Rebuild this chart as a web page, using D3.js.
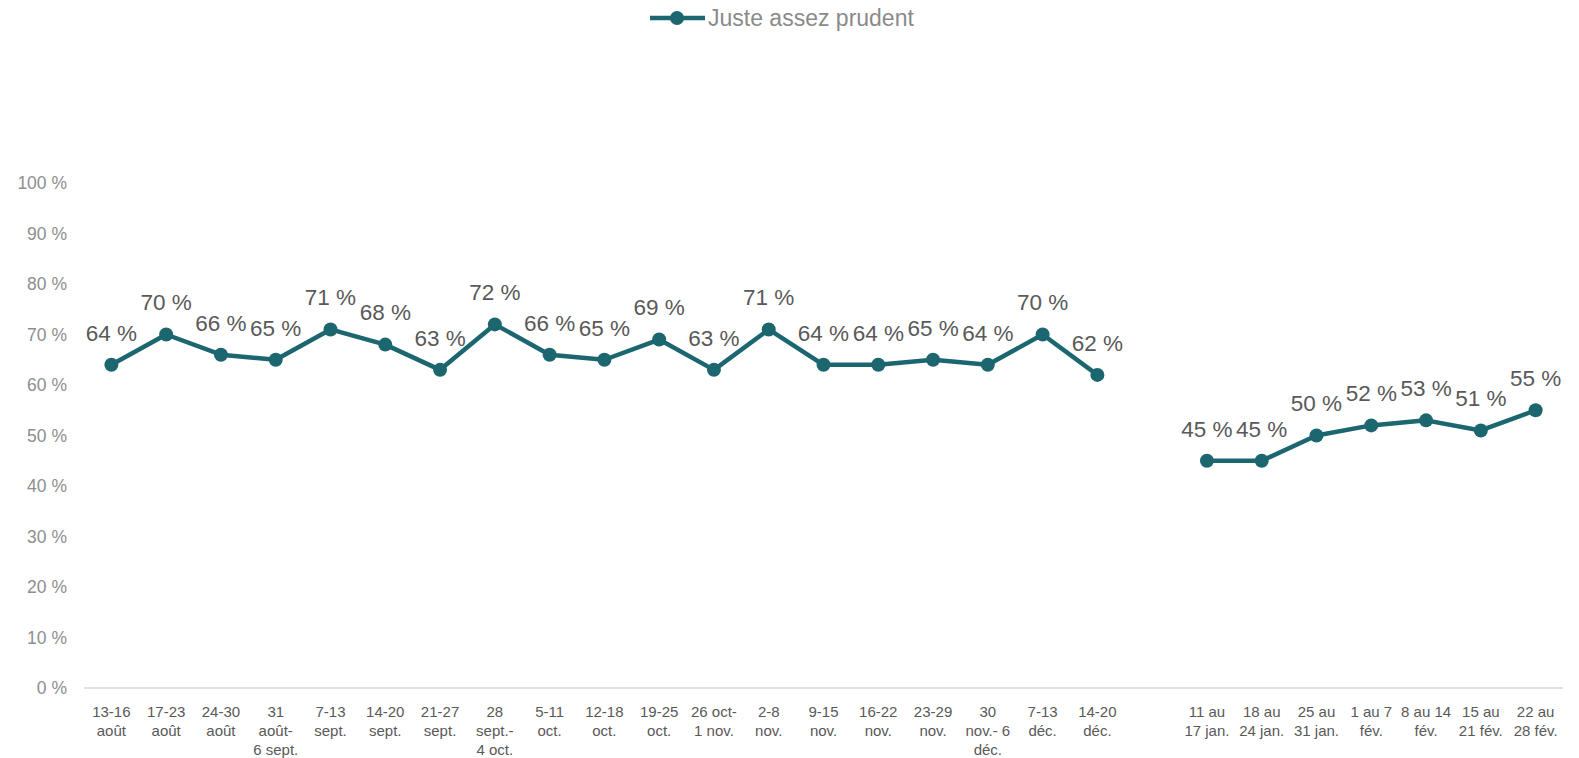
<!DOCTYPE html>
<html>
<head>
<meta charset="utf-8">
<script src="https://cdn.jsdelivr.net/npm/d3@7"></script>
<style>
  html, body { margin: 0; padding: 0; background: #fff; overflow: hidden; }
  svg { display: block; }
  text { font-family: "Liberation Sans", Arial, sans-serif; }
</style>
</head>
<body>
<div id="chartArea"></div>
<script>
const w = 1579;
const h = 758;
const margin = {top: 183, right: 16, bottom: 70, left: 84};

const categories = [
  "13-16\naoût", "17-23\naoût", "24-30\naoût", "31\naoût-\n6 sept.", "7-13\nsept.",
  "14-20\nsept.", "21-27\nsept.", "28\nsept.-\n4 oct.", "5-11\noct.", "12-18\noct.",
  "19-25\noct.", "26 oct-\n1 nov.", "2-8\nnov.", "9-15\nnov.", "16-22\nnov.",
  "23-29\nnov.", "30\nnov.- 6\ndéc.", "7-13\ndéc.", "14-20\ndéc.", "",
  "11 au\n17 jan.", "18 au\n24 jan.", "25 au\n31 jan.", "1 au 7\nfév.", "8 au 14\nfév.",
  "15 au\n21 fév.", "22 au\n28 fév."
];
const values = [64, 70, 66, 65, 71, 68, 63, 72, 66, 65, 69, 63, 71, 64, 64, 65, 64, 70, 62, null,
  45, 45, 50, 52, 53, 51, 55];
const yTicks = [0, 10, 20, 30, 40, 50, 60, 70, 80, 90, 100];
const seriesName = "Juste assez prudent";

const lineColor = "#1c6670";

const svg = d3.select("#chartArea")
    .append("svg")
    .attr("width", w)
    .attr("height", h);

let x = d3.scaleBand()
    .domain(d3.range(categories.length))
    .range([margin.left, w - margin.right]);

let y = d3.scaleLinear()
    .domain([0, 100])
    .range([h - margin.bottom, margin.top]);

// y axis labels
svg.append("g")
    .selectAll("text")
    .data(yTicks)
    .enter()
    .append("text")
    .attr("x", 67)
    .attr("y", d => y(d))
    .attr("dy", "0.35em")
    .attr("text-anchor", "end")
    .attr("font-size", 17.5)
    .attr("fill", "#8e8e8e")
    .text(d => d + " %");

// baseline
svg.append("line")
    .attr("x1", margin.left)
    .attr("x2", w - margin.right)
    .attr("y1", y(0))
    .attr("y2", y(0))
    .attr("stroke", "#d9d9d9")
    .attr("stroke-width", 1.5);

// x labels
let xl = svg.append("g")
    .selectAll("text")
    .data(categories)
    .enter()
    .append("text")
    .attr("text-anchor", "middle")
    .attr("font-size", 15)
    .attr("fill", "#595959");

xl.each(function(d, i) {
    let t = d3.select(this);
    d.split("\n").forEach((s, j) => {
        t.append("tspan")
            .attr("x", x(i) + x.bandwidth() / 2)
            .attr("y", 717 + j * 19)
            .text(s);
    });
});

let pts = values.map((v, i) => ({i: i, v: v}));

let line = d3.line()
    .defined(d => d.v !== null)
    .x(d => x(d.i) + x.bandwidth() / 2)
    .y(d => y(d.v));

svg.append("path")
    .datum(pts)
    .attr("d", line)
    .attr("fill", "none")
    .attr("stroke", lineColor)
    .attr("stroke-width", 4.5)
    .attr("stroke-linejoin", "round");

let shown = pts.filter(d => d.v !== null);

svg.selectAll("circle.pt")
    .data(shown)
    .enter()
    .append("circle")
    .attr("class", "pt")
    .attr("cx", d => x(d.i) + x.bandwidth() / 2)
    .attr("cy", d => y(d.v))
    .attr("r", 7)
    .attr("fill", lineColor);

svg.selectAll("text.lbl")
    .data(shown)
    .enter()
    .append("text")
    .attr("class", "lbl")
    .attr("x", d => x(d.i) + x.bandwidth() / 2)
    .attr("y", d => y(d.v) - 32)
    .attr("dy", "0.35em")
    .attr("text-anchor", "middle")
    .attr("font-size", 22.5)
    .attr("fill", "#595959")
    .text(d => d.v + " %");

// legend
let lg = svg.append("g");
lg.append("line")
    .attr("x1", 650).attr("x2", 705)
    .attr("y1", 18).attr("y2", 18)
    .attr("stroke", lineColor)
    .attr("stroke-width", 4.5);
lg.append("circle")
    .attr("cx", 677).attr("cy", 18).attr("r", 7)
    .attr("fill", lineColor);
lg.append("text")
    .attr("x", 708).attr("y", 18)
    .attr("dy", "0.35em")
    .attr("font-size", 23)
    .attr("fill", "#8a8a8a")
    .text(seriesName);
</script>
</body>
</html>
